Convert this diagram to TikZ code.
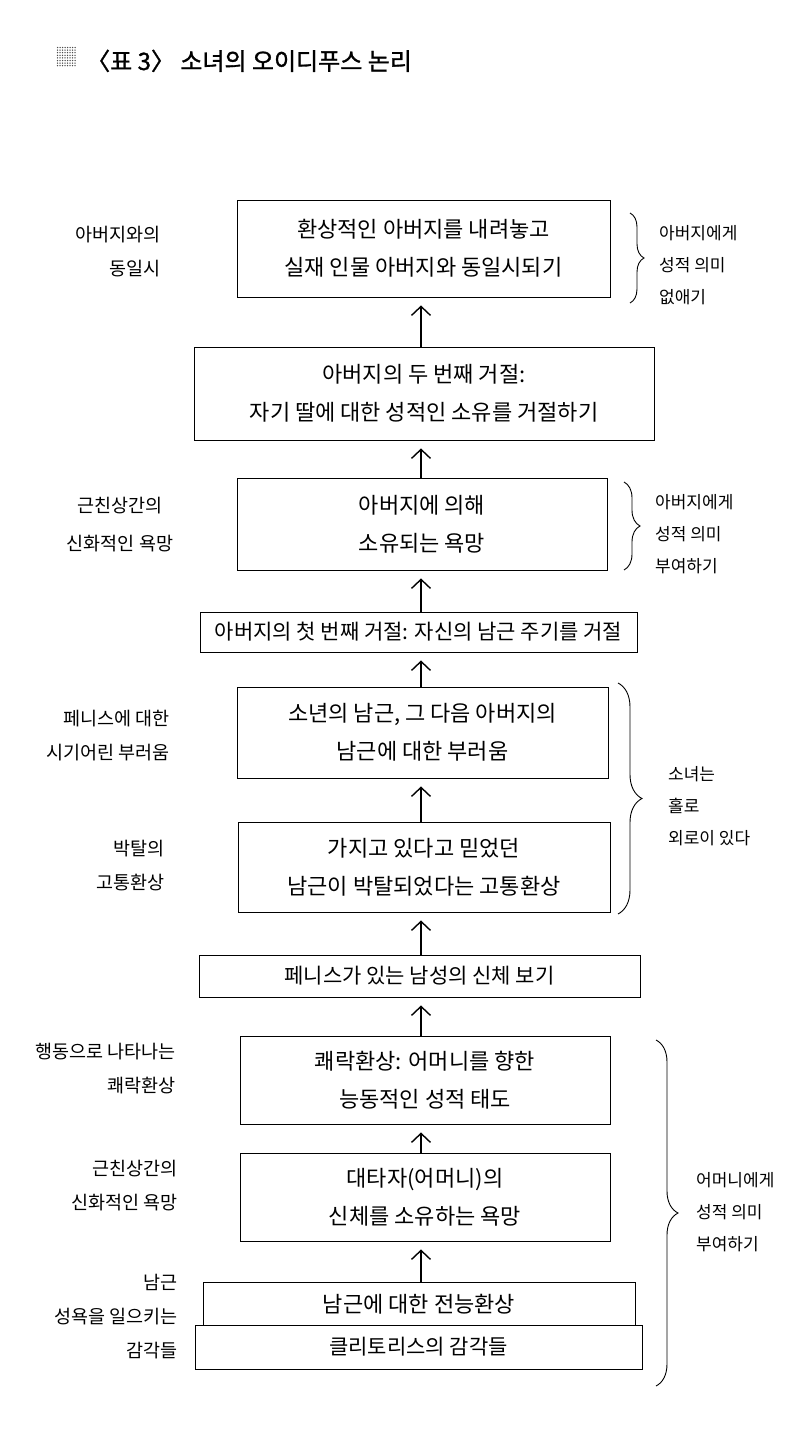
\documentclass[tikz,border=0pt]{standalone}
\usepackage{fontspec}
\setmainfont{Noto Sans CJK KR}
\newfontfamily\titlefont[FakeBold=1.2]{Noto Sans CJK KR}
\usetikzlibrary{arrows.meta,decorations.pathreplacing,calc}
\tikzset{
  box/.style={draw, line width=0.9pt, fill=white, inner sep=0pt, align=center,
    font=\fontsize{22}{38}\selectfont},
  sbox/.style={box, font=\fontsize{21}{38}\selectfont},
  arr/.style={-{Straight Barb[length=9pt,width=19pt,line width=1.4pt]}, line width=1.4pt,
    shorten <=0pt, shorten >=8pt},
  llab/.style={inner sep=0pt, align=right, anchor=east, font=\fontsize{18.5}{34}\selectfont},
  clab/.style={inner sep=0pt, align=center, font=\fontsize{18.5}{38}\selectfont},
  rlab/.style={inner sep=0pt, align=left, anchor=west, font=\fontsize{17}{32}\selectfont},
  brc/.style={decorate, line width=0.9pt},
}
\begin{document}
\begin{tikzpicture}[x=1pt,y=-1pt]
\useasboundingbox (0,0) rectangle (804,1440);
\fill[white] (0,0) rectangle (804,1440);

% title
\foreach \i in {0,...,7}{\foreach \j in {0,...,7}{
  \fill[black!70] (57.5+\i*2.5,47.5+\j*2.6) circle (0.75pt);}}
\node[anchor=base west, inner sep=0pt, font=\fontsize{24}{28}\selectfont\titlefont] (title) at (86,70) {〈표 3〉 소녀의 오이디푸스 논리};

% boxes
\node[box, minimum width=373pt, minimum height=97pt] (b1) at (423.5,248.5) {환상적인 아버지를 내려놓고\\실재 인물 아버지와 동일시되기};
\node[box, minimum width=460pt, minimum height=93pt] (b2) at (424,393.5) {아버지의 두 번째 거절:\\자기 딸에 대한 성적인 소유를 거절하기};
\node[box, minimum width=370pt, minimum height=92pt] (b3) at (422,524) {아버지에 의해\\소유되는 욕망};
\node[sbox, minimum width=437pt, minimum height=40pt] (b4) at (418.5,632) {아버지의 첫 번째 거절: 자신의 남근 주기를 거절};
\node[box, minimum width=371pt, minimum height=91pt] (b5) at (422.5,732.5) {소년의 남근, 그 다음 아버지의\\남근에 대한 부러움};
\node[box, minimum width=372pt, minimum height=90pt] (b6) at (424,867) {가지고 있다고 믿었던\\남근이 박탈되었다는 고통환상};
\node[sbox, minimum width=441pt, minimum height=42pt] (b7) at (419.5,976) {페니스가 있는 남성의 신체 보기};
\node[box, minimum width=370pt, minimum height=88pt] (b8) at (425,1080) {쾌락환상: 어머니를 향한\\능동적인 성적 태도};
\node[box, minimum width=370pt, minimum height=88pt] (b9) at (425,1197) {대타자(어머니)의\\신체를 소유하는 욕망};
\node[box, minimum width=432pt, minimum height=44pt] (b10) at (419,1304) {남근에 대한 전능환상};
\node[sbox, minimum width=447pt, minimum height=44pt] (b11) at (418.5,1347) {클리토리스의 감각들};

% arrows
\coordinate (ax) at (421,0);
\draw[arr] (b2.north -| ax) -- (b1.south -| ax);
\draw[arr] (b3.north -| ax) -- (b2.south -| ax);
\draw[arr] (b4.north -| ax) -- (b3.south -| ax);
\draw[arr] (b5.north -| ax) -- (b4.south -| ax);
\draw[arr] (b6.north -| ax) -- (b5.south -| ax);
\draw[arr] (b7.north -| ax) -- (b6.south -| ax);
\draw[arr] (b8.north -| ax) -- (b7.south -| ax);
\draw[arr] (b9.north -| ax) -- (b8.south -| ax);
\draw[arr] (b10.north -| ax) -- (b9.south -| ax);

% left labels
\node[llab] (l1) at (161,252) {아버지와의\\동일시};
\node[clab] (l2) at (120,525) {근친상간의\\신화적인 욕망};
\node[llab] (l3) at (170,736) {페니스에 대한\\시기어린 부러움};
\node[llab] (l4) at (165,866) {박탈의\\고통환상};
\node[llab] (l5) at (176,1069) {행동으로 나타나는\\쾌락환상};
\node[llab] (l6) at (178,1186) {근친상간의\\신화적인 욕망};
\node[llab] (l7) at (178,1317) {남근\\성욕을 일으키는\\감각들};

% braces
\coordinate (r1a) at (630,213); \coordinate (r1b) at (630,303);
\draw[brc, decoration={brace, amplitude=14pt}] (r1a) -- (r1b);
\coordinate (r2a) at (624,482); \coordinate (r2b) at (624,570);
\draw[brc, decoration={brace, amplitude=16pt}] (r2a) -- (r2b);
\coordinate (r3a) at (618,683); \coordinate (r3b) at (618,914);
\draw[brc, decoration={brace, amplitude=24pt}] (r3a) -- (r3b);
\coordinate (r4a) at (656,1040); \coordinate (r4b) at (656,1386);
\draw[brc, decoration={brace, amplitude=22pt}] (r4a) -- (r4b);

% right labels
\node[rlab] (t1) at (659,265) {아버지에게\\성적 의미\\없애기};
\node[rlab] (t2) at (655,534) {아버지에게\\성적 의미\\부여하기};
\node[rlab] (t3) at (668,806) {소녀는\\홀로\\외로이 있다};
\node[rlab] (t4) at (696,1212) {어머니에게\\성적 의미\\부여하기};
\end{tikzpicture}
\end{document}
